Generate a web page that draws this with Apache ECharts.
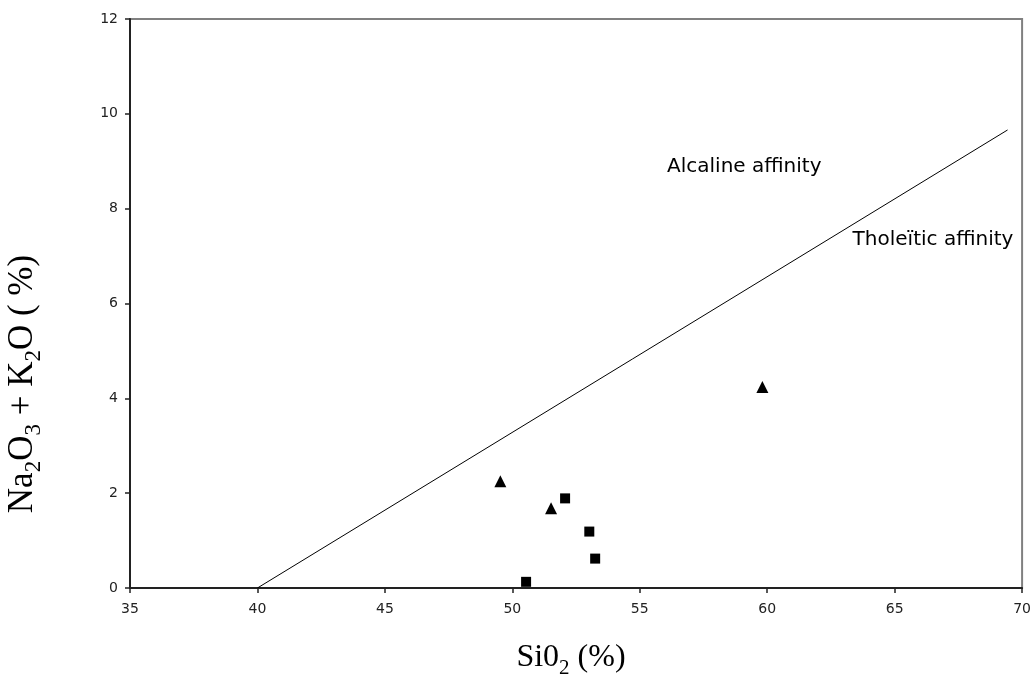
<!DOCTYPE html>
<html>
<head>
<meta charset="utf-8">
<script src="https://cdn.jsdelivr.net/npm/echarts@6/dist/echarts.min.js"></script>
<style>
  html, body { margin: 0; padding: 0; background: #fff; }
  #chart { width: 1034px; height: 674px; }
</style>
</head>
<body>
<div id="chart"></div>
<script>
// SiO2 vs total alkali (wt %) for the analysed basalt samples
const triangleSamples = [
  [49.53, 2.25],
  [51.52, 1.68],
  [59.81, 4.24]
];
const squareSamples = [
  [52.07, 1.89],
  [53.02, 1.19],
  [53.25, 0.62],
  [50.54, 0.13]
];
// Alkaline / tholeiitic dividing line
const dividingLine = [
  [40, 0],
  [69.43, 9.66]
];
// Field names, anchored at their left-middle point (data units)
const fieldLabels = [
  [56.07, 8.89, 'Alcaline affinity'],
  [63.35, 7.34, 'Tholeïtic affinity']
];
const xTicks = { min: 35, max: 70, interval: 5 };
const yTicks = { min: 0, max: 12, interval: 2 };

const chart = echarts.init(document.getElementById('chart'), null, { renderer: 'canvas' });

const tickFont = { fontFamily: 'DejaVu Sans', fontSize: 14, color: '#222' };
const serif = 'Liberation Serif';

chart.setOption({
  animation: false,
  backgroundColor: '#fff',
  grid: {
    left: 130, right: 10, top: 19, bottom: 86,
    show: true, borderColor: '#808080', borderWidth: 2, backgroundColor: 'transparent'
  },
  xAxis: {
    type: 'value',
    min: xTicks.min, max: xTicks.max, interval: xTicks.interval,
    splitLine: { show: false },
    axisLine: { show: true, onZero: false, lineStyle: { color: '#222', width: 2 } },
    axisTick: { show: true, inside: false, length: 5, lineStyle: { color: '#222', width: 1.5 } },
    axisLabel: Object.assign({ margin: 14 }, tickFont)
  },
  yAxis: {
    type: 'value',
    min: yTicks.min, max: yTicks.max, interval: yTicks.interval,
    splitLine: { show: false },
    axisLine: { show: true, onZero: false, lineStyle: { color: '#222', width: 2 } },
    axisTick: { show: true, inside: false, length: 5, lineStyle: { color: '#222', width: 1.5 } },
    axisLabel: Object.assign({ margin: 12 }, tickFont)
  },
  series: [
    {
      type: 'line',
      data: dividingLine,
      symbol: 'none',
      lineStyle: { color: '#000', width: 1 },
      silent: true
    },
    {
      type: 'scatter',
      data: triangleSamples,
      symbol: 'triangle',
      symbolSize: 12,
      itemStyle: { color: '#000', opacity: 1 }
    },
    {
      type: 'scatter',
      data: squareSamples,
      symbol: 'rect',
      symbolSize: 10,
      itemStyle: { color: '#000', opacity: 1 }
    },
    {
      type: 'scatter',
      data: fieldLabels,
      symbolSize: 0,
      itemStyle: { color: '#000', opacity: 1 },
      label: {
        show: true,
        position: 'right',
        distance: 0,
        formatter: p => p.data[2],
        fontFamily: 'DejaVu Sans',
        fontSize: 20,
        color: '#000'
      },
      silent: true
    }
  ],
  graphic: [
    {
      type: 'text',
      x: 571, y: 679,
      style: {
        text: '{a|Si0}{s|2}{a| (%)}',
        align: 'center',
        verticalAlign: 'bottom',
        rich: {
          a: { fontFamily: serif, fontSize: 32, color: '#000', verticalAlign: 'bottom', padding: [0, 0, 5, 0] },
          s: { fontFamily: serif, fontSize: 21, color: '#000', verticalAlign: 'bottom' }
        }
      }
    },
    {
      type: 'text',
      x: 25, y: 384,
      rotation: Math.PI / 2,
      style: {
        text: '{a|Na}{s|2}{a|O}{s|3}{a| + K}{s|2}{a|O ( %)}',
        align: 'center',
        verticalAlign: 'middle',
        rich: {
          a: { fontFamily: serif, fontSize: 35, color: '#000', verticalAlign: 'bottom', padding: [0, 0, 5, 0] },
          s: { fontFamily: serif, fontSize: 23, color: '#000', verticalAlign: 'bottom' }
        }
      }
    }
  ]
});
</script>
</body>
</html>
